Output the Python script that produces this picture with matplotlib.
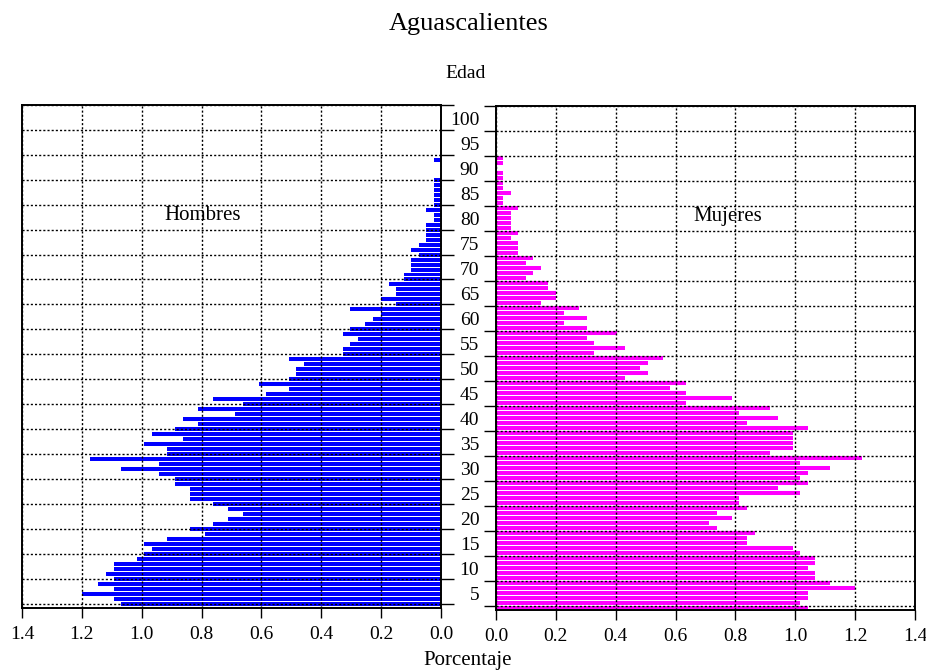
import numpy as np
import matplotlib
matplotlib.use("Agg")
import matplotlib.pyplot as plt
from matplotlib.ticker import FixedLocator

plt.rcParams['font.family'] = ['Liberation Serif', 'DejaVu Serif']

titulo = "Aguascalientes"

# porcentaje de poblacion por edad simple
edad_h = np.arange(0, 90)
hombres = [1.068, 1.092, 1.198, 1.092, 1.147, 1.092, 1.121, 1.092, 1.092, 1.017,
           0.992, 0.967, 0.992, 0.916, 0.788, 0.839, 0.763, 0.713, 0.663, 0.713,
           0.763, 0.839, 0.839, 0.839, 0.889, 0.889, 0.942, 1.068, 0.942, 1.173,
           0.916, 0.916, 0.992, 0.863, 0.967, 0.889, 0.813, 0.863, 0.687, 0.813,
           0.663, 0.763, 0.585, 0.509, 0.609, 0.509, 0.483, 0.483, 0.458, 0.509,
           0.328, 0.328, 0.304, 0.278, 0.328, 0.304, 0.253, 0.228, 0.200, 0.303,
           0.149, 0.200, 0.149, 0.149, 0.175, 0.124, 0.124, 0.099, 0.099, 0.099,
           0.075, 0.099, 0.075, 0.049, 0.049, 0.049, 0.049, 0.024, 0.024, 0.049,
           0.024, 0.024, 0.024, 0.024, 0.024, 0.024, 0.0, 0.0, 0.0, 0.024]

edad_m = np.arange(0, 91)
mujeres = [1.042, 1.017, 1.042, 1.042, 1.198, 1.117, 1.067, 1.067, 1.042, 1.067,
           1.067, 1.017, 0.992, 0.839, 0.839, 0.864, 0.738, 0.713, 0.788, 0.738,
           0.839, 0.813, 0.813, 1.017, 0.942, 1.042, 1.017, 1.042, 1.117, 1.017,
           1.223, 0.916, 0.992, 0.992, 0.992, 0.992, 1.042, 0.839, 0.942, 0.813,
           0.916, 0.634, 0.787, 0.634, 0.582, 0.634, 0.430, 0.507, 0.482, 0.507,
           0.558, 0.328, 0.430, 0.328, 0.304, 0.404, 0.304, 0.227, 0.304, 0.228,
           0.278, 0.150, 0.200, 0.200, 0.175, 0.175, 0.100, 0.125, 0.150, 0.100,
           0.125, 0.075, 0.075, 0.075, 0.050, 0.075, 0.050, 0.050, 0.050, 0.050,
           0.075, 0.024, 0.024, 0.050, 0.024, 0.024, 0.024, 0.024, 0.0, 0.024,
           0.024]

ticks_pct = [0.0, 0.2, 0.4, 0.6, 0.8, 1.0, 1.2, 1.4]
etiquetas_pct = ["%.1f" % t for t in ticks_pct]
ticks_edad = list(range(0, 101, 5))
etiquetas_edad = [str(e) for e in range(5, 101, 5)]

fig = plt.figure(figsize=(9.26, 6.72), dpi=100)
ax_h = fig.add_axes([22/926, 64/672, 419/926, 503/672])
ax_m = fig.add_axes([496/926, 62/672, 419/926, 504/672])

ax_h.barh(edad_h, hombres, height=0.8, color='#0000ff', linewidth=0)
ax_m.barh(edad_m, mujeres, height=-0.8, align='edge', color='#ff00ff', linewidth=0)

for ax in (ax_h, ax_m):
    ax.set_xticks(ticks_pct)
    ax.set_xticklabels(etiquetas_pct)
    ax.yaxis.set_major_locator(FixedLocator(ticks_edad))
    ax.grid(True, color='black', linestyle=(0, (1.5, 1.5)), linewidth=1.0)
    ax.set_axisbelow(False)
    for s in ax.spines.values():
        s.set_linewidth(1.4)
        s.set_color('black')
    ax.tick_params(axis='x', direction='out', length=7, width=1, pad=6,
                   labelsize=14)
    ax.tick_params(axis='y', direction='out', length=9, width=1)

ax_h.set_xlim(1.4, 0)
ax_h.set_ylim(-0.9, 100)
ax_h.yaxis.tick_right()
ax_h.tick_params(axis='y', labelright=False)

ax_m.set_xlim(0, 1.4)
ax_m.set_ylim(-0.8, 100)
ax_m.yaxis.tick_left()
ax_m.tick_params(axis='y', which='major', labelleft=False)
# etiquetas de edad entre las marcas
ax_m.yaxis.set_minor_locator(FixedLocator([e - 2.5 for e in range(5, 101, 5)]))
ax_m.set_yticklabels(etiquetas_edad, minor=True)
ax_m.tick_params(axis='y', which='minor', length=0, pad=12, labelsize=14)

ax_h.text(0.432, 0.78, "Hombres", transform=ax_h.transAxes, ha='center',
          va='center', fontsize=15)
ax_m.text(0.554, 0.78, "Mujeres", transform=ax_m.transAxes, ha='center',
          va='center', fontsize=15)

fig.text(0.506, 0.964, titulo, ha='center', va='center', fontsize=19)
fig.text(0.503, 0.891, "Edad", ha='center', va='center', fontsize=14)
fig.text(0.505, 0.017, "Porcentaje", ha='center', va='center', fontsize=15)

plt.savefig("out.png", dpi=100)
